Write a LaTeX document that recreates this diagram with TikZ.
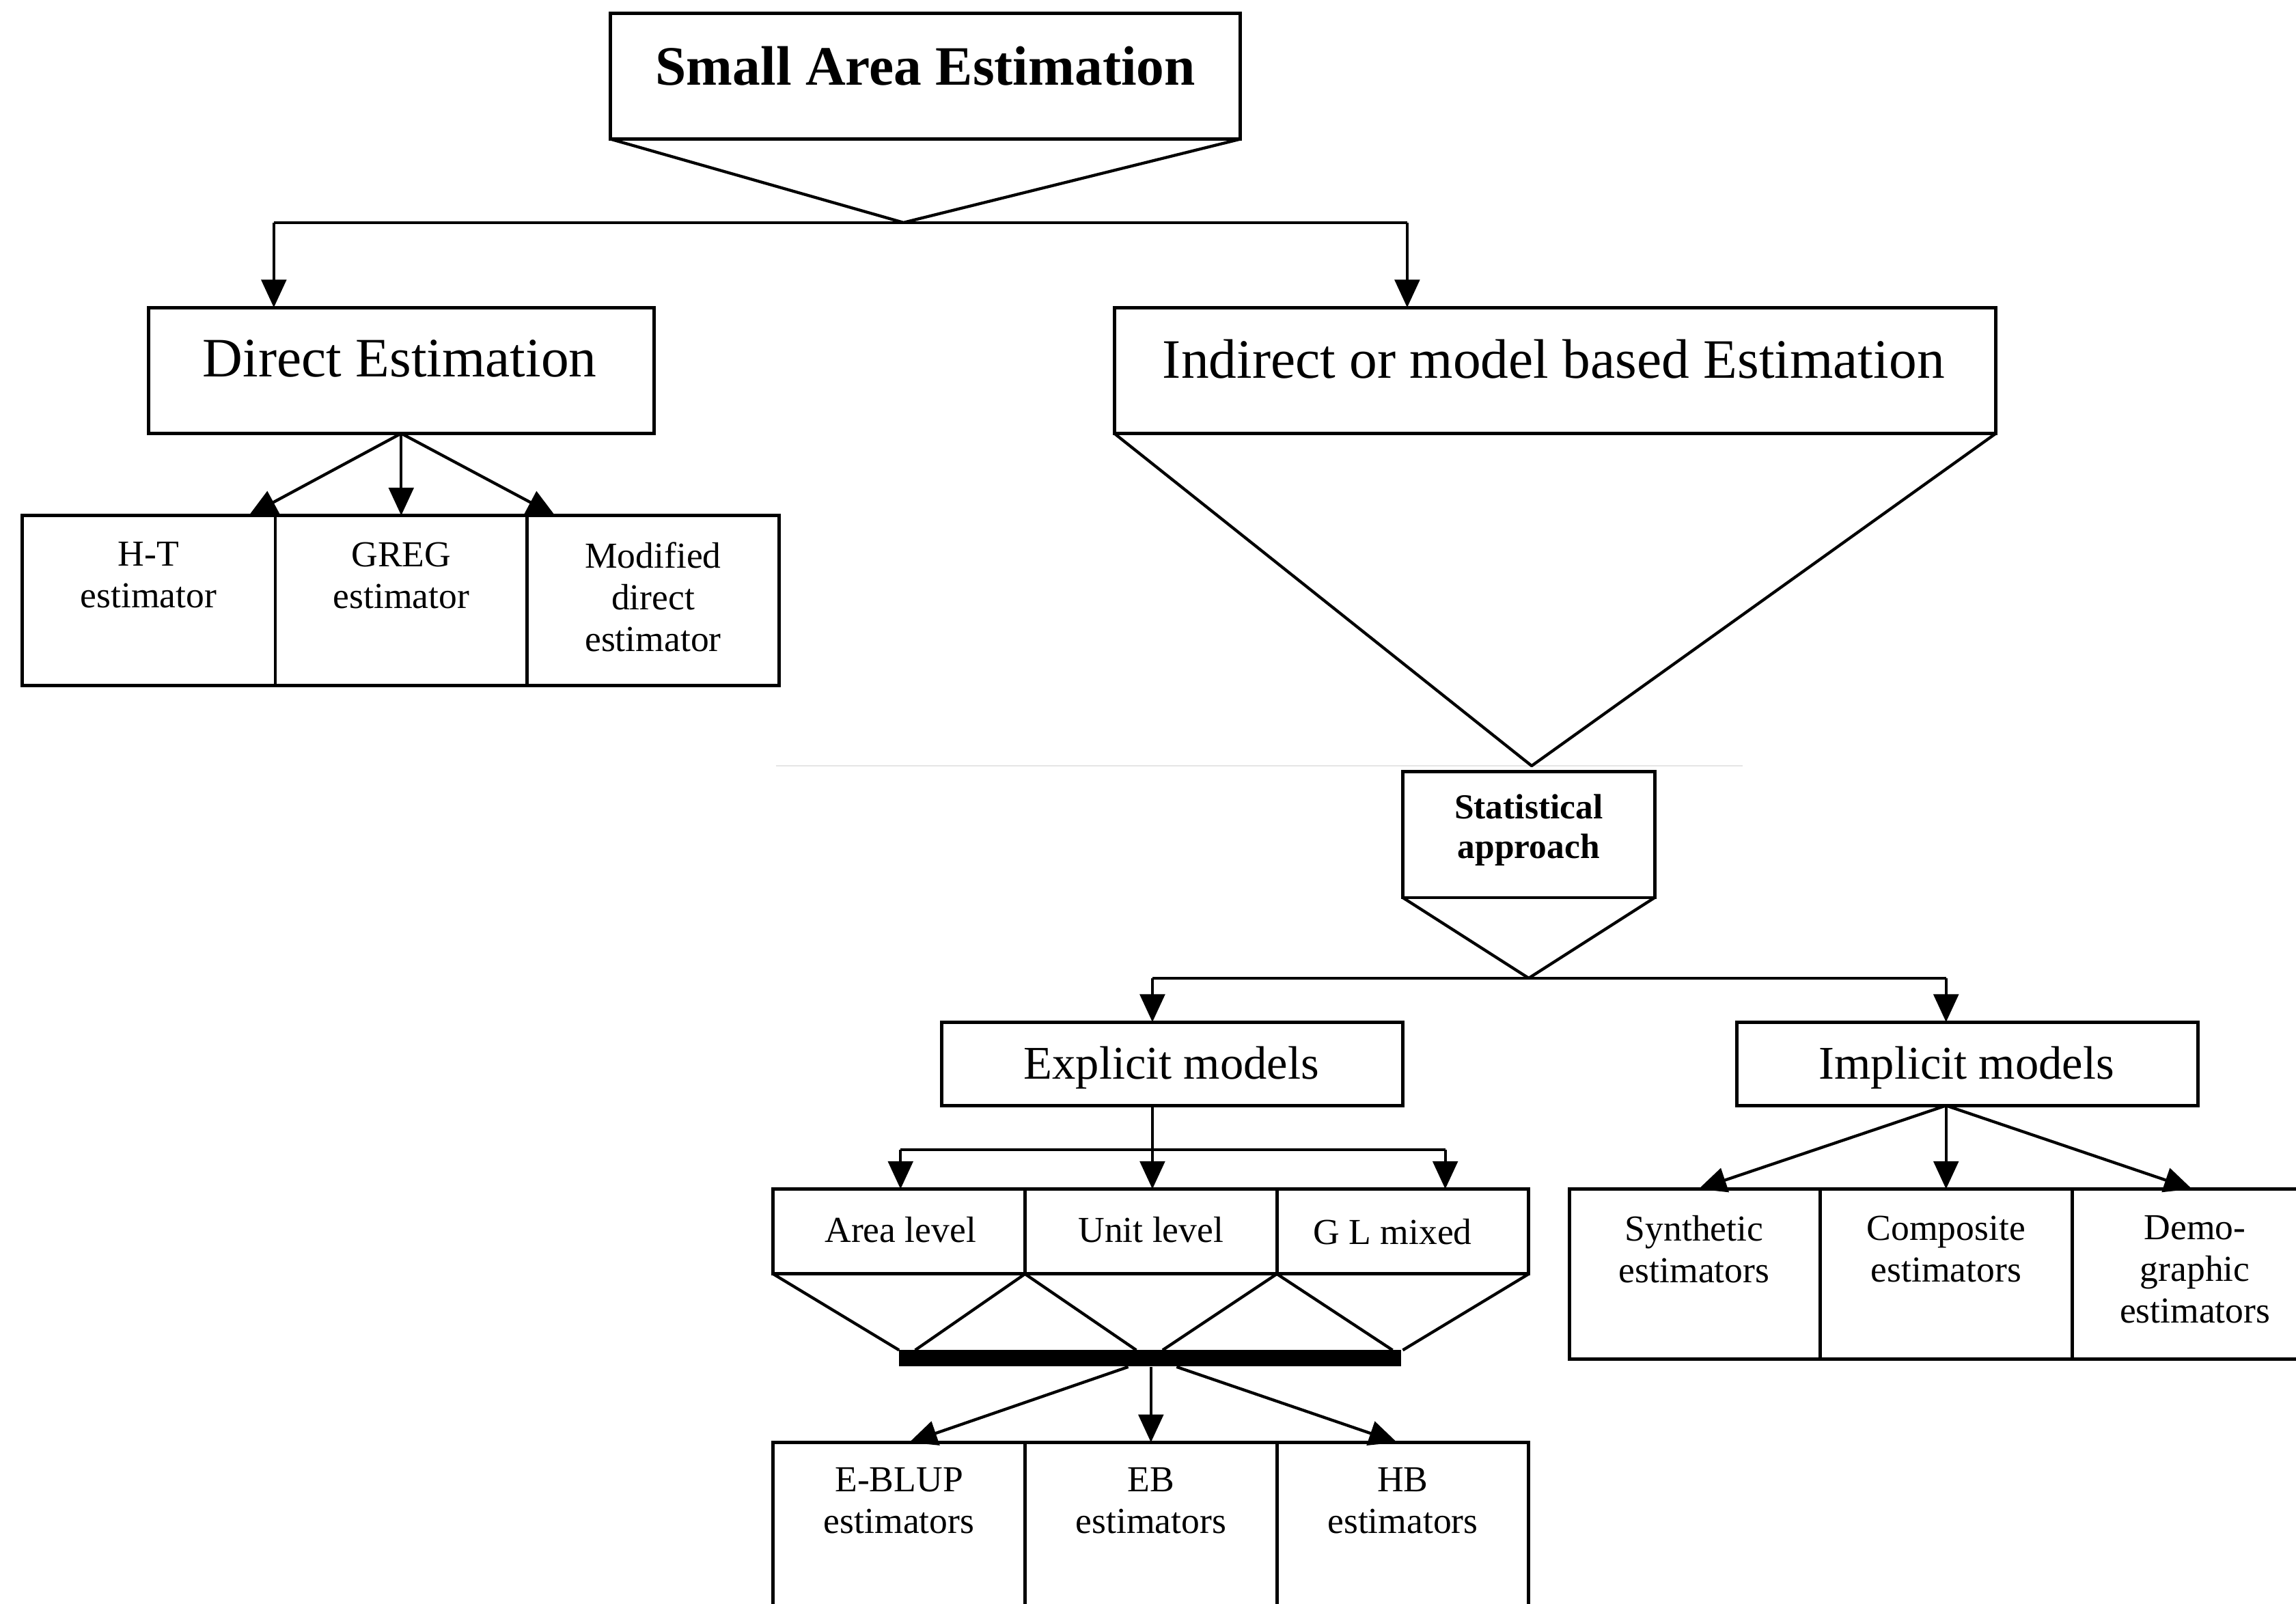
\documentclass[tikz,border=0pt]{standalone}
\usepackage{fontspec}
\setmainfont{Liberation Serif}
\usetikzlibrary{arrows.meta,calc}
\begin{document}
\begin{tikzpicture}[x=1pt,y=-1pt,
  box/.style={draw,line width=2.3pt,inner sep=0pt,outer sep=0pt},
  conn/.style={line width=2pt},
  arr/.style={line width=2pt,-{Triangle[width=17pt,length=19pt]}},
  bigtxt/.style={font=\fontsize{38}{44}\selectfont,inner sep=0pt},
  bigbold/.style={font=\bfseries\fontsize{38}{44}\selectfont,inner sep=0pt},
  midtxt/.style={font=\fontsize{32}{36}\selectfont,inner sep=0pt},
  smalltxt/.style={font=\fontsize{25}{28.5}\selectfont,inner sep=0pt,align=center},
  statbold/.style={font=\bfseries\fontsize{24}{27}\selectfont,inner sep=0pt,align=center}]
\useasboundingbox (0,0) rectangle (1568,1095.4);
\clip (0,0) rectangle (1568,1095.4);
\fill[white] (0,0) rectangle (1568,1095.4);

% ---------- top ----------
\node[box,minimum width=430pt,minimum height=86pt] (sae) at (632,52) {};
\node[bigbold] (tsae) at (632,45) {Small Area Estimation};
\coordinate (sapex) at (617,152);
\draw[conn,line join=round] (sae.south west) -- (sapex) -- (sae.south east);

\node[box,minimum width=345pt,minimum height=86pt] (direct) at (274,253) {};
\node[bigtxt] (tdirect) at (273,245) {Direct Estimation};
\node[box,minimum width=602pt,minimum height=86pt] (indirect) at (1062,253) {};
\node[bigtxt] (tindirect) at (1061,245) {Indirect or model based Estimation};

\coordinate (hl) at (187,152);
\coordinate (hr) at (961,152);
\draw[conn] (hl) -- (hr);
\draw[arr] (hl) -- (hl |- direct.north);
\draw[arr] (hr) -- (hr |- indirect.north);

% ---------- direct estimators ----------
\node[box,minimum width=173pt,minimum height=116pt] (ht) at (101.5,410) {};
\node[box,minimum width=172pt,minimum height=116pt] (greg) at (274,410) {};
\node[box,minimum width=172pt,minimum height=116pt] (modi) at (446,410) {};
\node[smalltxt,anchor=north] (tht) at (101.5,370) {H-T\\estimator};
\node[smalltxt,anchor=north] (tgreg) at (274,370) {GREG\\estimator};
\node[smalltxt,anchor=north] (tmodi) at (446,370) {Modified\\direct\\estimator};
\draw[arr] (direct.south) -- ($(ht.north east)+(-18,0)$);
\draw[arr] (direct.south) -- (greg.north);
\draw[arr] (direct.south) -- ($(modi.north west)+(19,0)$);

% ---------- indirect ----------
\draw[gray!20,line width=1pt] (530,523) -- (1190,523);
\coordinate (iapex) at (1046,523);
\draw[conn,line join=round] (indirect.south west) -- (iapex) -- (indirect.south east);

\node[box,minimum width=172pt,minimum height=86pt] (stat) at (1044,570) {};
\node[statbold] (tstat) at (1044,567) {Statistical\\approach};
\coordinate (stapex) at (1044,668);
\draw[conn,line join=round] (stat.south west) -- (stapex) -- (stat.south east);

\node[box,minimum width=315pt,minimum height=57pt] (expl) at (800.5,726.5) {};
\node[midtxt] (texpl) at (800,729) {Explicit models};
\node[box,minimum width=315pt,minimum height=57pt] (impl) at (1343.5,726.5) {};
\node[midtxt] (timpl) at (1343,729) {Implicit models};

\coordinate (sl) at (787,668);
\coordinate (sr) at (1329,668);
\draw[conn] (sl) -- (sr);
\draw[arr] (sl) -- (sl |- expl.north);
\draw[arr] (sr) -- (sr |- impl.north);

% ---------- explicit models ----------
\node[box,minimum width=172pt,minimum height=58pt] (area) at (614,841) {};
\node[box,minimum width=172pt,minimum height=58pt] (unit) at (786,841) {};
\node[box,minimum width=172pt,minimum height=58pt] (glm) at (958,841) {};
\node[smalltxt] (tarea) at (615,840) {Area level};
\node[smalltxt] (tunit) at (786,840) {Unit level};
\node[smalltxt] (tglm) at (951,841) {G L mixed};

\coordinate (ej) at (787,785);
\coordinate (ejl) at (615,785);
\coordinate (ejr) at (987,785);
\draw[conn] (ej |- expl.south) -- (ej);
\draw[conn] (ejl) -- (ejr);
\draw[arr] (ejl) -- (ejl |- area.north);
\draw[arr] (ej) -- (ej |- unit.north);
\draw[arr] (ejr) -- (ejr |- glm.north);

\node[fill=black,inner sep=0pt,minimum width=343pt,minimum height=11.5pt] (bar) at (785.5,927.5) {};
\draw[conn] (area.south west) -- (614,922);
\draw[conn] (area.south east) -- (625,922);
\draw[conn] (unit.south west) -- (776,922);
\draw[conn] (unit.south east) -- (794,922);
\draw[conn] (glm.south west) -- (951,922);
\draw[conn] (glm.south east) -- (958,922);

\node[box,minimum width=172pt,minimum height=160pt,anchor=north] (eblup) at (614,985) {};
\node[box,minimum width=172pt,minimum height=160pt,anchor=north] (eb) at (786,985) {};
\node[box,minimum width=172pt,minimum height=160pt,anchor=north] (hb) at (958,985) {};
\node[smalltxt,anchor=north] (teblup) at (614,1002) {E-BLUP\\estimators};
\node[smalltxt,anchor=north] (teb) at (786,1002) {EB\\estimators};
\node[smalltxt,anchor=north] (thb) at (958,1002) {HB\\estimators};

\draw[arr] ($(bar.south)+(-15,0)$) -- ($(eblup.north)+(7,0)$);
\draw[arr] (eb.north |- bar.south) -- (eb.north);
\draw[arr] ($(bar.south)+(18,0)$) -- ($(hb.north)+(-4,0)$);

% ---------- implicit models ----------
\node[box,minimum width=171pt,minimum height=116pt] (syn) at (1157.5,870) {};
\node[box,minimum width=172pt,minimum height=116pt] (comp) at (1329,870) {};
\node[box,minimum width=172pt,minimum height=116pt] (demo) at (1501,870) {};
\node[smalltxt,anchor=north] (tsyn) at (1157,830) {Synthetic\\estimators};
\node[smalltxt,anchor=north] (tcomp) at (1329,830) {Composite\\estimators};
\node[smalltxt,anchor=north] (tdemo) at (1499,830) {Demo-\\graphic\\estimators};

\coordinate (ij) at (1329,755);
\draw[arr] (ij) -- ($(syn.north)+(2.5,0)$);
\draw[arr] (ij) -- (comp.north);
\draw[arr] (ij) -- ($(demo.north)+(-4,0)$);
\end{tikzpicture}
\end{document}
